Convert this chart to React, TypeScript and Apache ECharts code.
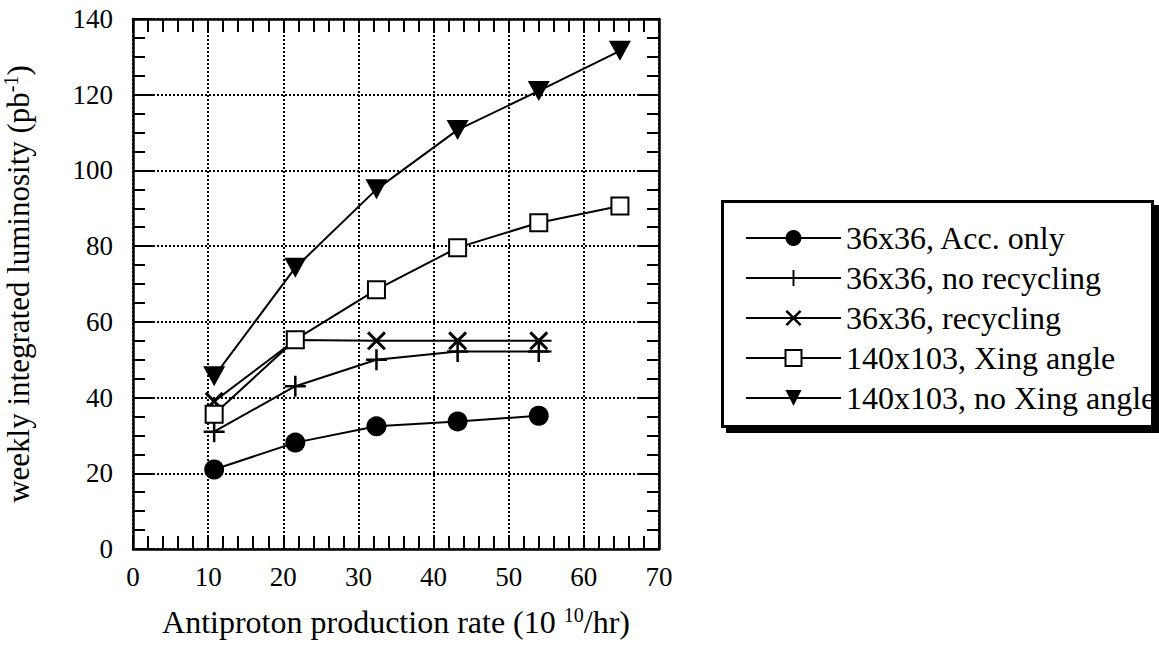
import React, { useEffect, useRef } from "react";
import * as echarts from "echarts";

const xValues = [10.8, 21.6, 32.4, 43.2, 54.0, 64.8];
const tailX = 55.7;

const accOnly = [21, 28.1, 32.4, 33.7, 35.2];
const noRecycling = [31, 43, 50, 52.2, 52.2];
const noRecyclingTail = 52.2;
const recycling = [39, 55.2, 55, 55, 55];
const recyclingTail = 55;
const xingAngle = [35.6, 55.3, 68.5, 79.6, 86.2, 90.6];
const noXingAngle = [45.6, 74.3, 95, 110.7, 121, 131.6];

const seriesNames = [
  "36x36, Acc. only",
  "36x36, no recycling",
  "36x36, recycling",
  "140x103, Xing angle",
  "140x103, no Xing angle",
];

const xTicks = { min: 0, max: 70, interval: 10 };
const yTicks = { min: 0, max: 140, interval: 20 };

const FONT = "Liberation Serif";

const PLUS = "path://M-1.2,-10L1.2,-10L1.2,10L-1.2,10ZM-10,-1.2L10,-1.2L10,1.2L-10,1.2Z";
const CROSS = "path://M-10,-7.8L-7.8,-10L10,7.8L7.8,10ZM-7.8,10L-10,7.8L7.8,-10L10,-7.8Z";

function pts(vals: number[]) {
  return vals.map((v, i) => [xValues[i], v]);
}

export default function App() {
  const ref = useRef<HTMLDivElement>(null);
  useEffect(() => {
    document.body.style.margin = "0";
    const chart = echarts.init(ref.current!, null, { renderer: "svg" });
    const lineStyle = { color: "#000", width: 2 };
    const baseSeries = {
      type: "line" as const,
      xAxisIndex: 0,
      yAxisIndex: 0,
      lineStyle,
      itemStyle: { color: "#000" },
      showAllSymbol: true,
      z: 3,
    };
    const option: any = {
      animation: false,
      backgroundColor: "#fff",
      textStyle: { fontFamily: FONT, color: "#000" },
      grid: { left: 132, right: 500, top: 19, bottom: 98, containLabel: false },
      xAxis: [
        {
          type: "value",
          position: "bottom",
          ...xTicks,
          axisLine: { show: true, onZero: false, lineStyle: { color: "#000", width: 2.5 } },
          axisTick: { show: true, inside: true, length: 13, lineStyle: { color: "#000", width: 2 } },
          minorTick: { show: true, splitNumber: 5, length: 13, lineStyle: { color: "#000", width: 2 } },
          splitLine: { show: true, lineStyle: { color: "#000", width: 2, type: [2, 2] } },
          axisLabel: { color: "#000", fontFamily: FONT, fontSize: 27, margin: 14 },
          name: "Antiproton production rate (10 {sup|10}/hr)",
          nameLocation: "middle",
          nameGap: 56,
          nameTextStyle: {
            color: "#000",
            fontFamily: FONT,
            fontSize: 32,
            lineHeight: 34,
            rich: {
              sup: { fontFamily: FONT, fontSize: 20, color: "#000", verticalAlign: "top", lineHeight: 34 },
            },
          },
        },
        {
          type: "value",
          position: "top",
          ...xTicks,
          axisLine: { show: true, onZero: false, lineStyle: { color: "#000", width: 2.5 } },
          axisTick: { show: true, inside: true, length: 13, lineStyle: { color: "#000", width: 2 } },
          minorTick: { show: true, splitNumber: 5, length: 13, lineStyle: { color: "#000", width: 2 } },
          splitLine: { show: false },
          axisLabel: { show: false },
        },
      ],
      yAxis: [
        {
          type: "value",
          position: "left",
          ...yTicks,
          axisLine: { show: true, onZero: false, lineStyle: { color: "#000", width: 2.5 } },
          axisTick: { show: true, inside: true, length: 20, lineStyle: { color: "#000", width: 2 } },
          minorTick: { show: true, splitNumber: 4, length: 12, lineStyle: { color: "#000", width: 2 } },
          splitLine: { show: true, lineStyle: { color: "#000", width: 2, type: [2, 2] } },
          axisLabel: { color: "#000", fontFamily: FONT, fontSize: 27, margin: 20 },
          name: "weekly integrated luminosity (pb{sup|-1})",
          nameLocation: "middle",
          nameRotate: 90,
          nameGap: 98,
          nameTextStyle: {
            color: "#000",
            fontFamily: FONT,
            fontSize: 31,
            lineHeight: 34,
            rich: {
              sup: { fontFamily: FONT, fontSize: 20, color: "#000", verticalAlign: "top", lineHeight: 34 },
            },
          },
        },
        {
          type: "value",
          position: "right",
          ...yTicks,
          axisLine: { show: true, onZero: false, lineStyle: { color: "#000", width: 2.5 } },
          axisTick: { show: true, inside: true, length: 20, lineStyle: { color: "#000", width: 2 } },
          minorTick: { show: true, splitNumber: 4, length: 12, lineStyle: { color: "#000", width: 2 } },
          splitLine: { show: false },
          axisLabel: { show: false },
        },
      ],
      legend: {
        orient: "vertical",
        left: 740,
        top: 217,
        itemWidth: 95,
        itemHeight: 20,
        itemGap: 8,
        z: 10,
        selectedMode: false,
        textStyle: { color: "#000", fontFamily: FONT, fontSize: 32, lineHeight: 32 },
        data: seriesNames,
      },
      graphic: [
        {
          type: "rect",
          z: 1,
          shape: { x: 726, y: 205, width: 433, height: 228 },
          style: { fill: "#000" },
        },
        {
          type: "rect",
          z: 2,
          shape: { x: 722.5, y: 201.5, width: 430, height: 225 },
          style: { fill: "#fff", stroke: "#000", lineWidth: 3 },
        },
      ],
      series: [
        {
          ...baseSeries,
          name: seriesNames[0],
          symbol: "circle",
          symbolSize: 20,
          data: pts(accOnly),
        },
        {
          ...baseSeries,
          name: seriesNames[1],
          symbol: PLUS,
          symbolSize: 21,
          data: [...pts(noRecycling), { value: [tailX, noRecyclingTail], symbol: "none" }],
        },
        {
          ...baseSeries,
          name: seriesNames[2],
          symbol: CROSS,
          symbolSize: 19,
          data: [...pts(recycling), { value: [tailX, recyclingTail], symbol: "none" }],
        },
        {
          ...baseSeries,
          name: seriesNames[3],
          symbol: "rect",
          symbolSize: 17,
          itemStyle: { color: "#fff", borderColor: "#000", borderWidth: 2 },
          data: pts(xingAngle),
        },
        {
          ...baseSeries,
          name: seriesNames[4],
          symbol: "triangle",
          symbolRotate: 180,
          symbolSize: [22, 20],
          data: pts(noXingAngle),
        },
      ],
    };
    chart.setOption(option);
    return () => chart.dispose();
  }, []);
  return (
    <div
      ref={ref}
      style={{ position: "absolute", left: 0, top: 0, width: 1159, height: 647 }}
    />
  );
}
